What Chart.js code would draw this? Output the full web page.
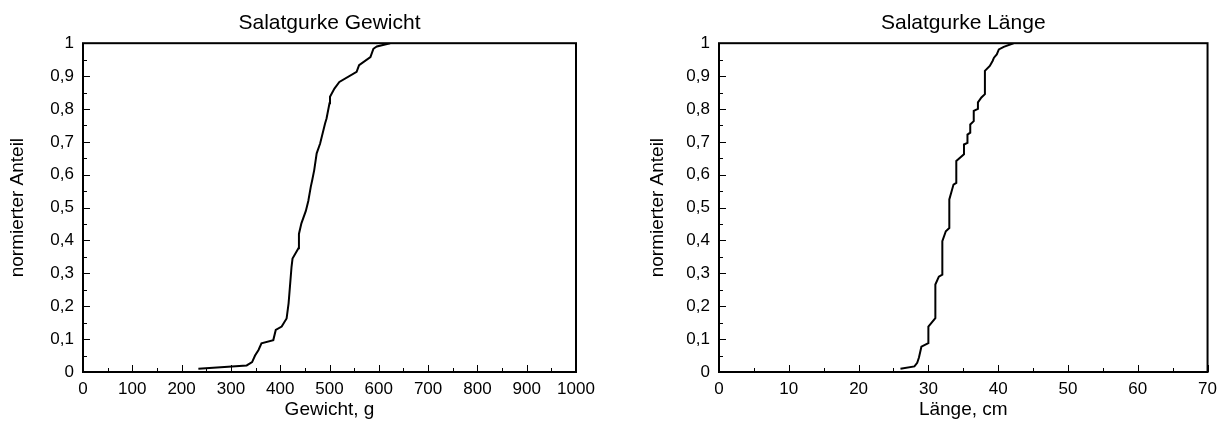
<!DOCTYPE html>
<html>
<head>
<meta charset="utf-8">
<script src="https://cdn.jsdelivr.net/npm/chart.js@4"></script>
<style>
    html, body { margin: 0; padding: 0; background: #fff; }
    body { width: 1224px; height: 425px; position: relative; overflow: hidden; }
    .panel { position: absolute; top: 0; width: 612px; height: 425px; }
</style>
</head>
<body>
<div class="panel" style="left:0"><canvas id="weightChart"></canvas></div>
<div class="panel" style="left:612px"><canvas id="lengthChart"></canvas></div>
<script>
// Salatgurke Gewicht (g) vs. normierter Anteil
const weightG = [234, 332, 343, 349, 356, 362, 386, 391, 403, 413,
    417, 420, 423, 425, 437, 438, 443, 452, 457, 462,
    465, 469, 474, 481, 491, 494, 500, 501, 510, 520,
    555, 560, 583, 589, 596, 623];
const weightShare = [0.01, 0.02, 0.03, 0.05, 0.067, 0.087, 0.097, 0.128, 0.138, 0.163,
    0.209, 0.264, 0.32, 0.345, 0.376, 0.42, 0.452, 0.49, 0.52, 0.563,
    0.584, 0.614, 0.665, 0.695, 0.756, 0.771, 0.817, 0.837, 0.862, 0.882,
    0.913, 0.933, 0.958, 0.983, 0.99, 1.0];

// Salatgurke Länge (cm) vs. normierter Anteil
const lengthCm = [26, 28, 28.4, 28.65, 29, 30, 30, 31, 31, 31.5,
    32, 32, 32.5, 33, 33, 33.6, 34, 34, 35.1, 35.1,
    35.6, 35.6, 36, 36, 36.5, 36.5, 37.1, 37.1, 37.6, 38.1,
    38.1, 38.8, 39.2, 39.4, 39.8, 40.1, 40.8, 42.2];
const lengthShare = [0.01, 0.017, 0.028, 0.044, 0.077, 0.088, 0.138, 0.164, 0.266, 0.29,
    0.296, 0.398, 0.428, 0.438, 0.525, 0.57, 0.575, 0.642, 0.662, 0.692,
    0.697, 0.722, 0.728, 0.753, 0.763, 0.794, 0.8, 0.82, 0.835, 0.845,
    0.916, 0.931, 0.946, 0.956, 0.966, 0.981, 0.989, 1.0];

const FONT = "'Liberation Sans', Arial, sans-serif";

/**
 * Frame around the plot area plus inward tick marks (major and minor)
 */
const framePlugin = {
    id: 'frame',
    afterDatasetsDraw(chart, args, opts) {
        const { ctx, chartArea: a, scales } = chart;
        ctx.save();
        ctx.strokeStyle = '#000';
        ctx.lineWidth = 1;
        ctx.beginPath();
        // x ticks along the bottom edge
        const xs = scales.x;
        for (let v = xs.min; v <= xs.max + 1e-9; v += opts.xMinor) {
            const px = Math.round(xs.getPixelForValue(v)) + 0.5;
            const major = Math.abs(v / opts.xMajor - Math.round(v / opts.xMajor)) < 1e-6;
            ctx.moveTo(px, a.bottom);
            ctx.lineTo(px, a.bottom - (major ? 7 : 4));
        }
        // y ticks along the left edge
        const ys = scales.y;
        for (let i = 0; i <= 20; i++) {
            const py = Math.round(ys.getPixelForValue(i * 0.05)) + 0.5;
            ctx.moveTo(a.left, py);
            ctx.lineTo(a.left + (i % 2 === 0 ? 7 : 4), py);
        }
        ctx.stroke();
        ctx.lineWidth = 2;
        ctx.strokeRect(a.left, a.top, a.right - a.left, a.bottom - a.top);
        ctx.restore();
    }
};

function shareLabel(value) {
    if (value === 0) return '0';
    if (Math.abs(value - 1) < 1e-9) return '1';
    return value.toFixed(1).replace('.', ',');
}

/**
 * Build one distribution chart
 */
function makeChart(canvasId, cfg) {
    const points = cfg.xs.map((x, i) => ({ x: x, y: cfg.ys[i] }));
    return new Chart(document.getElementById(canvasId), {
        type: 'line',
        data: {
            datasets: [{
                data: points,
                borderColor: '#000',
                borderWidth: 2,
                pointRadius: 0,
                tension: 0,
                fill: false
            }]
        },
        options: {
            responsive: true,
            maintainAspectRatio: false,
            animation: false,
            layout: {
                padding: { left: cfg.padLeft, right: cfg.padRight, top: 0, bottom: 4 }
            },
            plugins: {
                legend: { display: false },
                tooltip: { enabled: false },
                title: {
                    display: true,
                    text: cfg.title,
                    fullSize: false,
                    color: '#000',
                    font: { family: FONT, size: 21, weight: 'normal' },
                    padding: { top: 11, bottom: 7 }
                },
                frame: { xMinor: cfg.xMinor, xMajor: cfg.xMajor }
            },
            scales: {
                x: {
                    type: 'linear',
                    min: 0,
                    max: cfg.xMax,
                    border: { display: false },
                    grid: { drawOnChartArea: false, drawTicks: false },
                    ticks: {
                        stepSize: cfg.xMajor,
                        color: '#000',
                        padding: 7,
                        maxRotation: 0,
                        font: { family: FONT, size: 17 },
                        callback: (value) => String(value)
                    },
                    title: {
                        display: true,
                        text: cfg.xTitle,
                        color: '#000',
                        padding: { top: 0, bottom: 0 },
                        font: { family: FONT, size: 19 }
                    },
                    afterFit(scale) { scale.height = 49; }
                },
                y: {
                    min: 0,
                    max: 1,
                    border: { display: false },
                    grid: { drawOnChartArea: false, drawTicks: false },
                    ticks: {
                        stepSize: 0.1,
                        color: '#000',
                        padding: 9,
                        font: { family: FONT, size: 17 },
                        callback: shareLabel
                    },
                    title: {
                        display: true,
                        text: 'normierter Anteil',
                        color: '#000',
                        padding: { top: 0, bottom: 0 },
                        font: { family: FONT, size: 19 }
                    },
                    afterFit(scale) { scale.width = cfg.yWidth; }
                }
            }
        },
        plugins: [framePlugin]
    });
}

makeChart('weightChart', {
    xs: weightG, ys: weightShare,
    title: 'Salatgurke Gewicht', xTitle: 'Gewicht, g',
    xMax: 1000, xMajor: 100, xMinor: 50,
    padLeft: 6, padRight: 36, yWidth: 77
});

makeChart('lengthChart', {
    xs: lengthCm, ys: lengthShare,
    title: 'Salatgurke Länge', xTitle: 'Länge, cm',
    xMax: 70, xMajor: 10, xMinor: 5,
    padLeft: 34, padRight: 11, yWidth: 73
});
</script>
</body>
</html>
